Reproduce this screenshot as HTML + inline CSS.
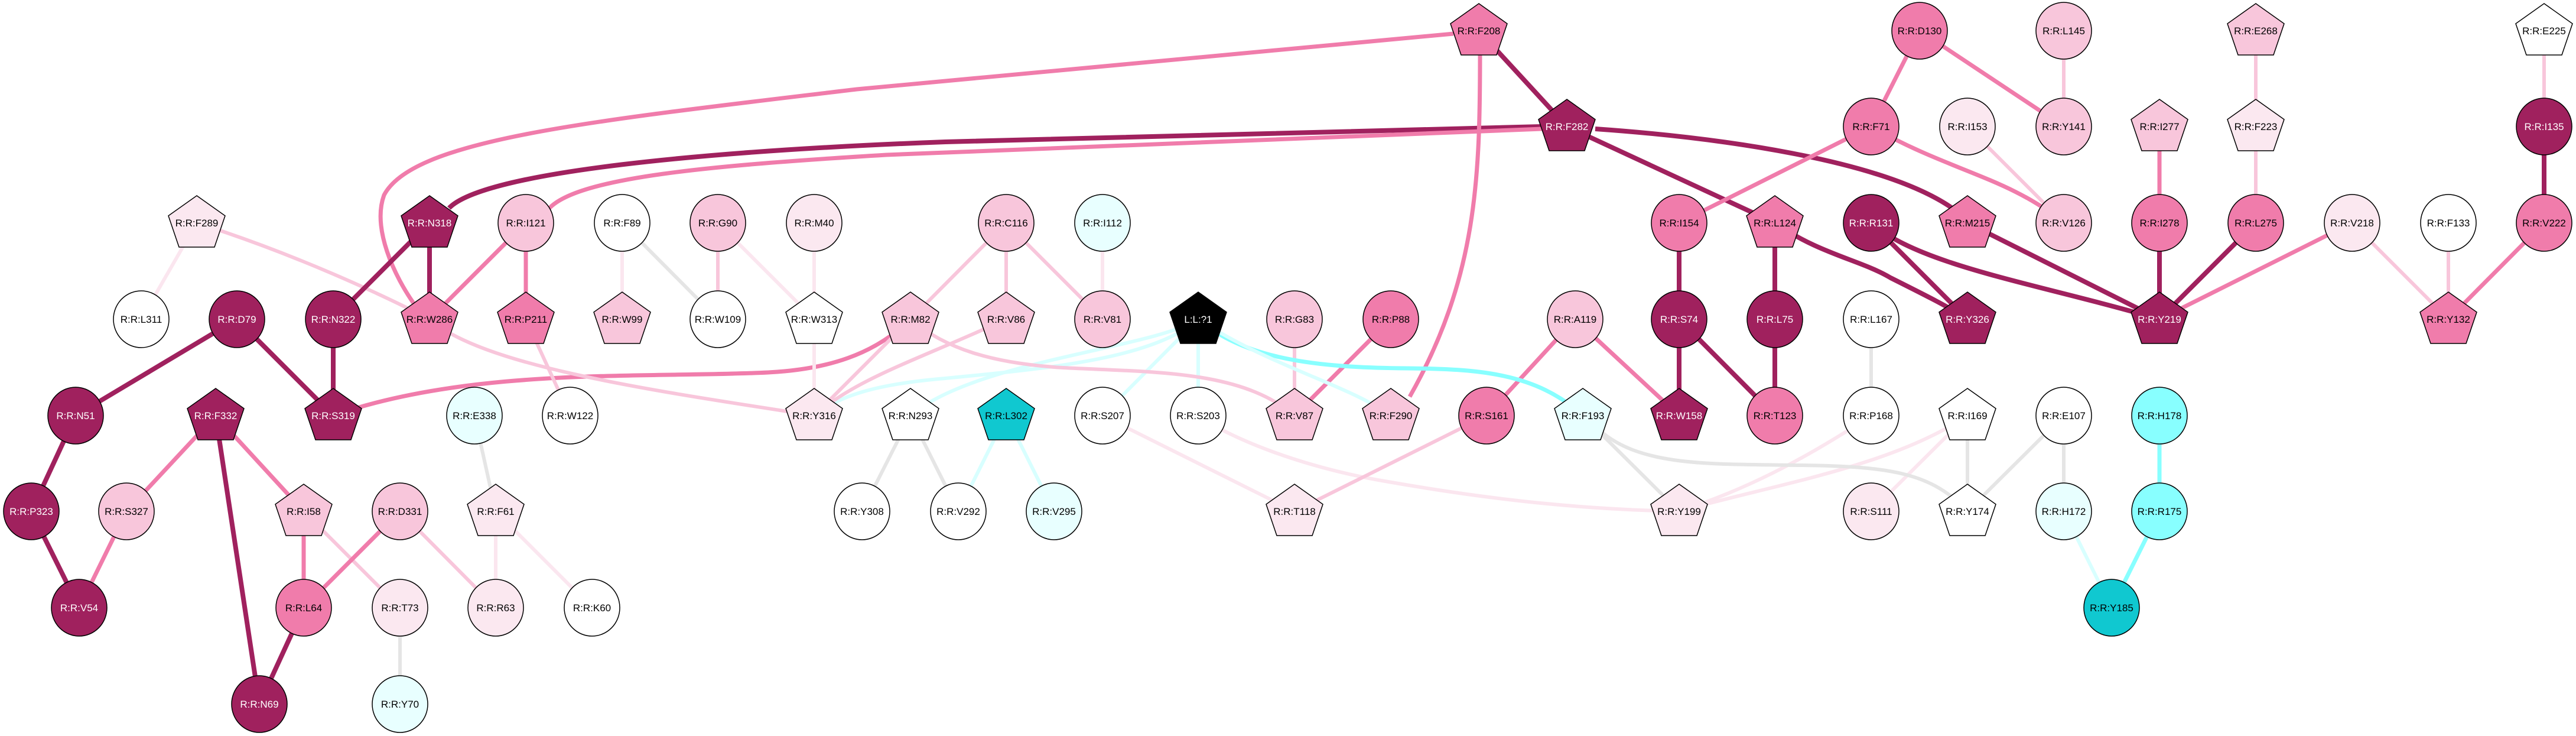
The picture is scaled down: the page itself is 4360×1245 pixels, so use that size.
<!DOCTYPE html>
<html><head><meta charset="utf-8"><style>
html,body{margin:0;padding:0;background:#fff}
svg{display:block}
text{font-family:"Liberation Sans",sans-serif;font-size:17px;text-anchor:middle;fill:#000}
.w{fill:#fff}
.e{fill:none;stroke-linecap:butt}
.dk{stroke:#A0215E;stroke-width:8}
.md{stroke:#F07CAB;stroke-width:7}
.lt{stroke:#F8C6DB;stroke-width:6}
.vl{stroke:#FBE6EF;stroke-width:6}
.gr{stroke:#E5E5E5;stroke-width:6}
.cy{stroke:#88FFFF;stroke-width:7}
.cl{stroke:#D8FFFF;stroke-width:6}
.n{stroke:#000;stroke-width:1.5}
</style></head><body>
<svg width="4360" height="1245" viewBox="0 0 4360 1245" xmlns="http://www.w3.org/2000/svg">
<defs>
<polygon id="pg" points="0,-46 48,-12 30,41 -30,41 -48,-12"/>
</defs>
<g>
<!-- curves -->
<path class="e dk" d="M760,352 C820,290 1200,255 1600,240 L2610,214"/>
<path class="e md" d="M930,352 C980,300 1200,280 1500,262 L2610,218"/>
<path class="e md" d="M2460,57 L1450,151 C1000,205 700,235 650,330 C630,385 665,465 705,520"/>
<path class="e dk" d="M2503,52 L2652,214"/>
<path class="e md" d="M2505,91 C2505,300 2500,470 2386,671"/>
<path class="e dk" d="M2652,214 L3004,377"/>
<path class="e dk" d="M2700,218 C2900,232 3200,270 3315,360"/>
<path class="e dk" d="M3004,377 C3080,430 3150,440 3200,470 C3260,500 3300,520 3330,540"/>
<path class="e dk" d="M3004,377 L3004,540 L3004,703"/>
<path class="e md" d="M3167,214 L2842,377"/>
<path class="e dk" d="M2842,377 L2842,540 L2842,703"/>
<path class="e dk" d="M2842,540 L3004,703"/>
<path class="e md" d="M3249,52 L3167,214"/>
<path class="e md" d="M3249,52 L3493,214"/>
<path class="e lt" d="M3493,52 L3493,214"/>
<path class="e md" d="M3167,214 C3300,290 3400,300 3493,377"/>
<path class="e lt" d="M3330,214 L3493,377"/>
<path class="e dk" d="M3167,377 L3330,540"/>
<path class="e dk" d="M3167,377 C3250,450 3450,480 3655,540"/>
<path class="e dk" d="M3330,377 L3655,540"/>
<path class="e dk" d="M3655,377 L3655,540"/>
<path class="e dk" d="M3818,377 L3655,540"/>
<path class="e md" d="M3981,377 L3655,540"/>
<path class="e md" d="M3655,214 L3655,377"/>
<path class="e lt" d="M3818,52 L3818,214 L3818,377"/>
<path class="e lt" d="M3981,377 L4144,540"/>
<path class="e lt" d="M4144,377 L4144,540"/>
<path class="e md" d="M4306,377 L4144,540"/>
<path class="e lt" d="M4306,52 L4306,214"/>
<path class="e dk" d="M4306,214 L4306,377"/>
<path class="e gr" d="M3167,540 L3167,703"/>
<path class="e gr" d="M3330,703 L3330,865"/>
<path class="e gr" d="M3493,703 L3330,865"/>
<path class="e gr" d="M3493,703 L3493,865"/>
<path class="e cy" d="M3655,703 L3655,865 L3574,1028"/>
<path class="e cl" d="M3493,865 L3574,1028"/>
<path class="e vl" d="M3167,703 C3050,780 2950,830 2842,865"/>
<path class="e vl" d="M3330,703 C3200,790 3000,820 2842,865"/>
<path class="e vl" d="M3330,703 L3167,865"/>
<path class="e gr" d="M2710,730 C2780,790 2900,785 3050,787 C3200,789 3270,800 3330,865"/>
<path class="e gr" d="M2679,703 L2842,865"/>
<path class="e vl" d="M2028,703 C2080,740 2200,790 2350,815 C2550,850 2700,862 2842,865"/>
<path class="e vl" d="M1866,703 L2191,865"/>
<path class="e lt" d="M2516,703 L2191,865"/>
<path class="e md" d="M2666,540 L2516,703"/>
<path class="e md" d="M2666,540 L2842,703"/>
<path class="e md" d="M2354,540 L2191,703"/>
<path class="e lt" d="M2191,540 L2191,703"/>
<path class="e cy" d="M2028,540 C2100,600 2200,622 2381,623 C2500,624 2600,630 2679,703"/>
<path class="e cl" d="M2028,540 C2150,620 2280,650 2354,703"/>
<path class="e cl" d="M2028,540 L2028,703"/>
<path class="e cl" d="M2028,540 L1866,703"/>
<path class="e cl" d="M2028,540 C1950,590 1650,610 1541,703"/>
<path class="e cl" d="M2028,540 C1950,610 1750,625 1600,640 C1480,650 1420,670 1378,703"/>
<path class="e md" d="M564,703 C800,620 1100,640 1300,630 C1400,625 1480,600 1541,540"/>
<path class="e lt" d="M1541,540 C1600,590 1680,615 1800,622 C1950,630 2100,625 2191,703"/>
<path class="e lt" d="M1541,540 L1378,703"/>
<path class="e lt" d="M1703,540 C1550,610 1450,640 1378,703"/>
<path class="e lt" d="M1703,377 L1541,540"/>
<path class="e lt" d="M1703,377 L1703,540"/>
<path class="e lt" d="M1703,377 L1866,540"/>
<path class="e vl" d="M1866,377 L1866,540"/>
<path class="e lt" d="M333,377 C500,430 650,500 727,540"/>
<path class="e lt" d="M727,540 C820,620 1100,660 1378,703"/>
<path class="e vl" d="M333,377 L239,540"/>
<path class="e md" d="M890,377 L727,540"/>
<path class="e md" d="M890,377 L890,540"/>
<path class="e lt" d="M890,540 L965,703"/>
<path class="e vl" d="M1053,377 L1053,540"/>
<path class="e gr" d="M1053,377 L1215,540"/>
<path class="e lt" d="M1215,377 L1215,540"/>
<path class="e vl" d="M1215,377 L1378,540"/>
<path class="e vl" d="M1378,377 L1378,540 L1378,703"/>
<path class="e dk" d="M727,377 L727,540"/>
<path class="e dk" d="M727,377 L564,540"/>
<path class="e dk" d="M564,540 L564,703"/>
<path class="e dk" d="M401,540 L564,703"/>
<path class="e dk" d="M401,540 L128,703"/>
<path class="e dk" d="M128,703 L53,865"/>
<path class="e dk" d="M53,865 L134,1028"/>
<path class="e md" d="M214,865 L134,1028"/>
<path class="e md" d="M365,703 L214,865"/>
<path class="e dk" d="M365,703 L439,1191"/>
<path class="e md" d="M365,703 L514,865"/>
<path class="e md" d="M514,865 L514,1028"/>
<path class="e lt" d="M514,865 L677,1028"/>
<path class="e md" d="M677,865 L514,1028"/>
<path class="e lt" d="M677,865 L839,1028"/>
<path class="e dk" d="M514,1028 L439,1191"/>
<path class="e gr" d="M677,1028 L677,1191"/>
<path class="e gr" d="M803,703 L839,865"/>
<path class="e vl" d="M839,865 L839,1028"/>
<path class="e vl" d="M839,865 L1002,1028"/>
<path class="e gr" d="M1541,703 L1459,865"/>
<path class="e gr" d="M1541,703 L1622,865"/>
<path class="e cl" d="M1703,703 L1622,865"/>
<path class="e cl" d="M1703,703 L1784,865"/>
</g>
<g class="n">
<!-- pentagons -->
<use href="#pg" x="2503" y="52" fill="#F07CAB"/>
<use href="#pg" x="3818" y="52" fill="#F8C6DB"/>
<use href="#pg" x="4306" y="52" fill="#FFFFFF"/>
<use href="#pg" x="2652" y="214" fill="#A0215E"/>
<use href="#pg" x="3655" y="214" fill="#F8C6DB"/>
<use href="#pg" x="3818" y="214" fill="#FBE8F0"/>
<use href="#pg" x="333" y="377" fill="#FBE8F0"/>
<use href="#pg" x="727" y="377" fill="#A0215E"/>
<use href="#pg" x="3004" y="377" fill="#F07CAB"/>
<use href="#pg" x="3330" y="377" fill="#F07CAB"/>
<use href="#pg" x="727" y="540" fill="#F07CAB"/>
<use href="#pg" x="890" y="540" fill="#F07CAB"/>
<use href="#pg" x="1053" y="540" fill="#F8C6DB"/>
<use href="#pg" x="1378" y="540" fill="#FFFFFF"/>
<use href="#pg" x="1541" y="540" fill="#F8C6DB"/>
<use href="#pg" x="1703" y="540" fill="#F8C6DB"/>
<use href="#pg" x="2028" y="540" fill="#000000"/>
<use href="#pg" x="3330" y="540" fill="#A0215E"/>
<use href="#pg" x="3655" y="540" fill="#A0215E"/>
<use href="#pg" x="4144" y="540" fill="#F07CAB"/>
<use href="#pg" x="365" y="703" fill="#A0215E"/>
<use href="#pg" x="564" y="703" fill="#A0215E"/>
<use href="#pg" x="1378" y="703" fill="#FBE8F0"/>
<use href="#pg" x="1541" y="703" fill="#FFFFFF"/>
<use href="#pg" x="1703" y="703" fill="#10C8D0"/>
<use href="#pg" x="2191" y="703" fill="#F8C6DB"/>
<use href="#pg" x="2354" y="703" fill="#F8C6DB"/>
<use href="#pg" x="2679" y="703" fill="#E8FFFF"/>
<use href="#pg" x="2842" y="703" fill="#A0215E"/>
<use href="#pg" x="3330" y="703" fill="#FFFFFF"/>
<use href="#pg" x="514" y="865" fill="#F8C6DB"/>
<use href="#pg" x="839" y="865" fill="#FBE8F0"/>
<use href="#pg" x="2191" y="865" fill="#FBE8F0"/>
<use href="#pg" x="2842" y="865" fill="#FBE8F0"/>
<use href="#pg" x="3330" y="865" fill="#FFFFFF"/>
<!-- circles -->
<ellipse cx="3249" cy="52" rx="47" ry="48" fill="#F07CAB"/>
<ellipse cx="3493" cy="52" rx="47" ry="48" fill="#F8C6DB"/>
<ellipse cx="3167" cy="214" rx="47" ry="48" fill="#F07CAB"/>
<ellipse cx="3330" cy="214" rx="47" ry="48" fill="#FBE8F0"/>
<ellipse cx="3493" cy="214" rx="47" ry="48" fill="#F8C6DB"/>
<ellipse cx="4306" cy="214" rx="47" ry="48" fill="#A0215E"/>
<ellipse cx="890" cy="377" rx="47" ry="48" fill="#F8C6DB"/>
<ellipse cx="1053" cy="377" rx="47" ry="48" fill="#FFFFFF"/>
<ellipse cx="1215" cy="377" rx="47" ry="48" fill="#F8C6DB"/>
<ellipse cx="1378" cy="377" rx="47" ry="48" fill="#FBE8F0"/>
<ellipse cx="1703" cy="377" rx="47" ry="48" fill="#F8C6DB"/>
<ellipse cx="1866" cy="377" rx="47" ry="48" fill="#E8FFFF"/>
<ellipse cx="2842" cy="377" rx="47" ry="48" fill="#F07CAB"/>
<ellipse cx="3167" cy="377" rx="47" ry="48" fill="#A0215E"/>
<ellipse cx="3493" cy="377" rx="47" ry="48" fill="#F8C6DB"/>
<ellipse cx="3655" cy="377" rx="47" ry="48" fill="#F07CAB"/>
<ellipse cx="3818" cy="377" rx="47" ry="48" fill="#F07CAB"/>
<ellipse cx="3981" cy="377" rx="47" ry="48" fill="#FBE8F0"/>
<ellipse cx="4144" cy="377" rx="47" ry="48" fill="#FFFFFF"/>
<ellipse cx="4306" cy="377" rx="47" ry="48" fill="#F07CAB"/>
<ellipse cx="239" cy="540" rx="47" ry="48" fill="#FFFFFF"/>
<ellipse cx="401" cy="540" rx="47" ry="48" fill="#A0215E"/>
<ellipse cx="564" cy="540" rx="47" ry="48" fill="#A0215E"/>
<ellipse cx="1215" cy="540" rx="47" ry="48" fill="#FFFFFF"/>
<ellipse cx="1866" cy="540" rx="47" ry="48" fill="#F8C6DB"/>
<ellipse cx="2191" cy="540" rx="47" ry="48" fill="#F8C6DB"/>
<ellipse cx="2354" cy="540" rx="47" ry="48" fill="#F07CAB"/>
<ellipse cx="2666" cy="540" rx="47" ry="48" fill="#F8C6DB"/>
<ellipse cx="2842" cy="540" rx="47" ry="48" fill="#A0215E"/>
<ellipse cx="3004" cy="540" rx="47" ry="48" fill="#A0215E"/>
<ellipse cx="3167" cy="540" rx="47" ry="48" fill="#FFFFFF"/>
<ellipse cx="128" cy="703" rx="47" ry="48" fill="#A0215E"/>
<ellipse cx="803" cy="703" rx="47" ry="48" fill="#E8FFFF"/>
<ellipse cx="965" cy="703" rx="47" ry="48" fill="#FFFFFF"/>
<ellipse cx="1866" cy="703" rx="47" ry="48" fill="#FFFFFF"/>
<ellipse cx="2028" cy="703" rx="47" ry="48" fill="#FFFFFF"/>
<ellipse cx="2516" cy="703" rx="47" ry="48" fill="#F07CAB"/>
<ellipse cx="3004" cy="703" rx="47" ry="48" fill="#F07CAB"/>
<ellipse cx="3167" cy="703" rx="47" ry="48" fill="#FFFFFF"/>
<ellipse cx="3493" cy="703" rx="47" ry="48" fill="#FFFFFF"/>
<ellipse cx="3655" cy="703" rx="47" ry="48" fill="#88FFFF"/>
<ellipse cx="53" cy="865" rx="47" ry="48" fill="#A0215E"/>
<ellipse cx="214" cy="865" rx="47" ry="48" fill="#F8C6DB"/>
<ellipse cx="677" cy="865" rx="47" ry="48" fill="#F8C6DB"/>
<ellipse cx="1459" cy="865" rx="47" ry="48" fill="#FFFFFF"/>
<ellipse cx="1622" cy="865" rx="47" ry="48" fill="#FFFFFF"/>
<ellipse cx="1784" cy="865" rx="47" ry="48" fill="#E8FFFF"/>
<ellipse cx="3167" cy="865" rx="47" ry="48" fill="#FBE8F0"/>
<ellipse cx="3493" cy="865" rx="47" ry="48" fill="#E8FFFF"/>
<ellipse cx="3655" cy="865" rx="47" ry="48" fill="#88FFFF"/>
<ellipse cx="134" cy="1028" rx="47" ry="48" fill="#A0215E"/>
<ellipse cx="514" cy="1028" rx="47" ry="48" fill="#F07CAB"/>
<ellipse cx="677" cy="1028" rx="47" ry="48" fill="#FBE8F0"/>
<ellipse cx="839" cy="1028" rx="47" ry="48" fill="#FBE8F0"/>
<ellipse cx="1002" cy="1028" rx="47" ry="48" fill="#FFFFFF"/>
<ellipse cx="3574" cy="1028" rx="47" ry="48" fill="#10C8D0"/>
<ellipse cx="439" cy="1191" rx="47" ry="48" fill="#A0215E"/>
<ellipse cx="677" cy="1191" rx="47" ry="48" fill="#E8FFFF"/>
</g>
<g>
<text x="2503" y="58">R:R:F208</text>
<text x="3249" y="58">R:R:D130</text>
<text x="3493" y="58">R:R:L145</text>
<text x="3818" y="58">R:R:E268</text>
<text x="4306" y="58">R:R:E225</text>
<text x="2652" y="220" class="w">R:R:F282</text>
<text x="3167" y="220">R:R:F71</text>
<text x="3330" y="220">R:R:I153</text>
<text x="3493" y="220">R:R:Y141</text>
<text x="3655" y="220">R:R:I277</text>
<text x="3818" y="220">R:R:F223</text>
<text x="4306" y="220" class="w">R:R:I135</text>
<text x="333" y="383">R:R:F289</text>
<text x="727" y="383" class="w">R:R:N318</text>
<text x="890" y="383">R:R:I121</text>
<text x="1053" y="383">R:R:F89</text>
<text x="1215" y="383">R:R:G90</text>
<text x="1378" y="383">R:R:M40</text>
<text x="1703" y="383">R:R:C116</text>
<text x="1866" y="383">R:R:I112</text>
<text x="2842" y="383">R:R:I154</text>
<text x="3004" y="383">R:R:L124</text>
<text x="3167" y="383" class="w">R:R:R131</text>
<text x="3330" y="383">R:R:M215</text>
<text x="3493" y="383">R:R:V126</text>
<text x="3655" y="383">R:R:I278</text>
<text x="3818" y="383">R:R:L275</text>
<text x="3981" y="383">R:R:V218</text>
<text x="4144" y="383">R:R:F133</text>
<text x="4306" y="383">R:R:V222</text>
<text x="239" y="546">R:R:L311</text>
<text x="401" y="546" class="w">R:R:D79</text>
<text x="564" y="546" class="w">R:R:N322</text>
<text x="727" y="546">R:R:W286</text>
<text x="890" y="546">R:R:P211</text>
<text x="1053" y="546">R:R:W99</text>
<text x="1215" y="546">R:R:W109</text>
<text x="1378" y="546">R:R:W313</text>
<text x="1541" y="546">R:R:M82</text>
<text x="1703" y="546">R:R:V86</text>
<text x="1866" y="546">R:R:V81</text>
<text x="2028" y="546" class="w">L:L:?1</text>
<text x="2191" y="546">R:R:G83</text>
<text x="2354" y="546">R:R:P88</text>
<text x="2666" y="546">R:R:A119</text>
<text x="2842" y="546" class="w">R:R:S74</text>
<text x="3004" y="546" class="w">R:R:L75</text>
<text x="3167" y="546">R:R:L167</text>
<text x="3330" y="546" class="w">R:R:Y326</text>
<text x="3655" y="546" class="w">R:R:Y219</text>
<text x="4144" y="546">R:R:Y132</text>
<text x="128" y="709" class="w">R:R:N51</text>
<text x="365" y="709" class="w">R:R:F332</text>
<text x="564" y="709" class="w">R:R:S319</text>
<text x="803" y="709">R:R:E338</text>
<text x="965" y="709">R:R:W122</text>
<text x="1378" y="709">R:R:Y316</text>
<text x="1541" y="709">R:R:N293</text>
<text x="1703" y="709">R:R:L302</text>
<text x="1866" y="709">R:R:S207</text>
<text x="2028" y="709">R:R:S203</text>
<text x="2191" y="709">R:R:V87</text>
<text x="2354" y="709">R:R:F290</text>
<text x="2516" y="709">R:R:S161</text>
<text x="2679" y="709">R:R:F193</text>
<text x="2842" y="709" class="w">R:R:W158</text>
<text x="3004" y="709">R:R:T123</text>
<text x="3167" y="709">R:R:P168</text>
<text x="3330" y="709">R:R:I169</text>
<text x="3493" y="709">R:R:E107</text>
<text x="3655" y="709">R:R:H178</text>
<text x="53" y="871" class="w">R:R:P323</text>
<text x="214" y="871">R:R:S327</text>
<text x="514" y="871">R:R:I58</text>
<text x="677" y="871">R:R:D331</text>
<text x="839" y="871">R:R:F61</text>
<text x="1459" y="871">R:R:Y308</text>
<text x="1622" y="871">R:R:V292</text>
<text x="1784" y="871">R:R:V295</text>
<text x="2191" y="871">R:R:T118</text>
<text x="2842" y="871">R:R:Y199</text>
<text x="3167" y="871">R:R:S111</text>
<text x="3330" y="871">R:R:Y174</text>
<text x="3493" y="871">R:R:H172</text>
<text x="3655" y="871">R:R:R175</text>
<text x="134" y="1034" class="w">R:R:V54</text>
<text x="514" y="1034">R:R:L64</text>
<text x="677" y="1034">R:R:T73</text>
<text x="839" y="1034">R:R:R63</text>
<text x="1002" y="1034">R:R:K60</text>
<text x="3574" y="1034">R:R:Y185</text>
<text x="439" y="1197" class="w">R:R:N69</text>
<text x="677" y="1197">R:R:Y70</text>
</g>
</svg>
</body></html>
